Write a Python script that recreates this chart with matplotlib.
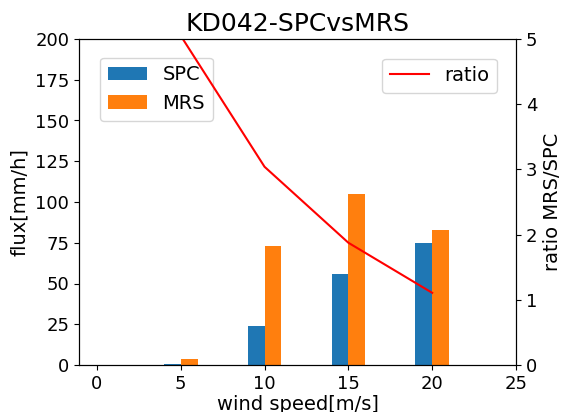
import matplotlib
matplotlib.use("Agg")
import matplotlib.pyplot as plt
import numpy as np

wind = [5, 10, 15, 20]
spc = [0.75, 24, 56, 75]
mrs = [3.8, 73, 105, 83]
ratio = [5.05, 3.04, 1.875, 1.107]

fig = plt.figure(figsize=(5.63, 4.12), dpi=100)
ax = fig.add_axes([79/563, 1-365/412, (516-79)/563, (365-39)/412])
x = np.array(wind)
ax.bar(x - 0.5, spc, width=1, color='#1f77b4', label='SPC')
ax.bar(x + 0.5, mrs, width=1, color='#ff7f0e', label='MRS')
ax.set_xlim(-1.07, 25)
ax.set_ylim(0, 200)
ax.set_xticks([0, 5, 10, 15, 20, 25])
ax.set_xlabel('wind speed[m/s]', fontsize=14, labelpad=2)
ax.set_ylabel('flux[mm/h]', fontsize=14)
ax.tick_params(labelsize=13)
ax.set_title('KD042-SPCvsMRS', fontsize=18)
ax.legend(loc='upper left', bbox_to_anchor=(0.026, 0.973), fontsize=14)

ax2 = ax.twinx()
ax2.plot(wind, ratio, color='red', label='ratio')
ax2.set_ylim(0, 5)
ax2.set_ylabel('ratio MRS/SPC', fontsize=14)
ax2.tick_params(labelsize=13)
ax2.legend(loc='upper right', bbox_to_anchor=(0.979, 0.97), fontsize=14)

fig.savefig('out.png', dpi=100)
